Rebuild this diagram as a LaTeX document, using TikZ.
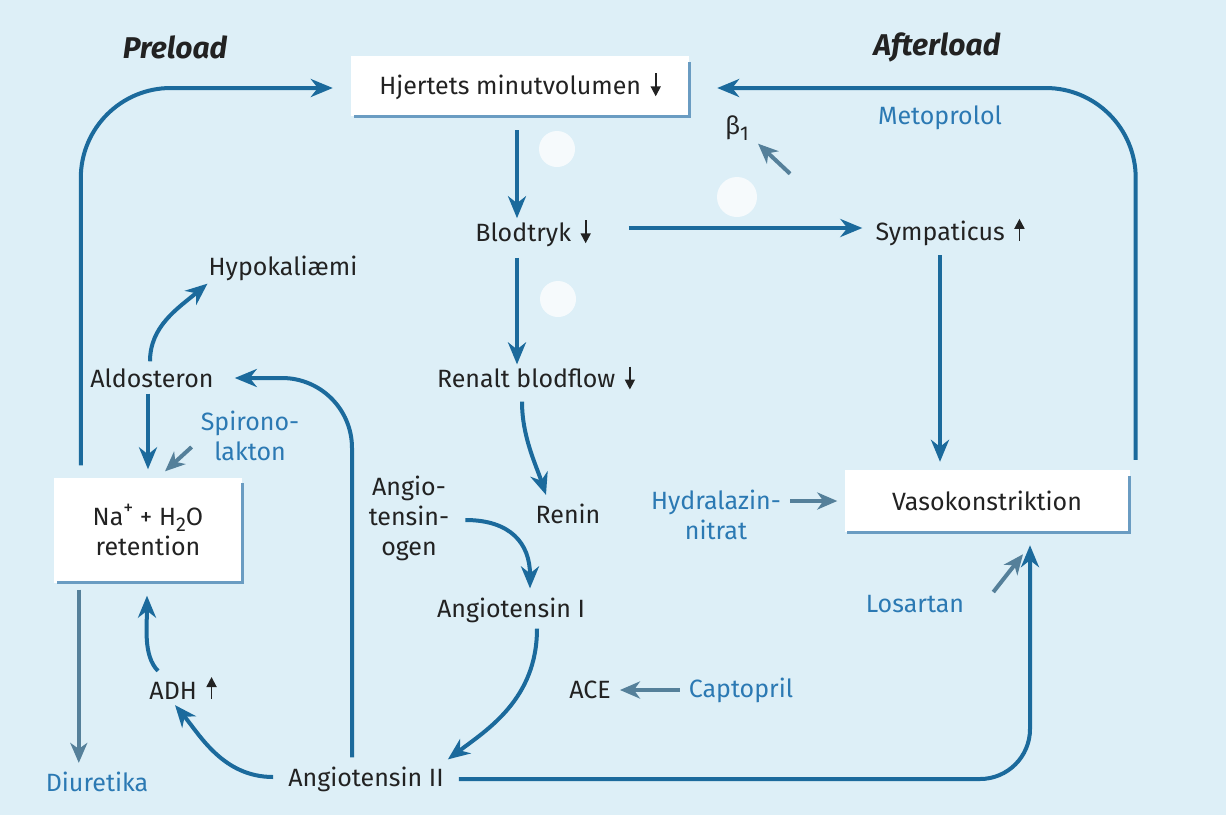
\documentclass[tikz,border=0pt]{standalone}
\usepackage{fontspec}
\setmainfont{Fira Sans}
\usetikzlibrary{arrows.meta,calc}
\definecolor{bg}{HTML}{DDEFF7}
\definecolor{arr}{HTML}{1B6A9C}
\definecolor{drug}{HTML}{2B79B3}
\definecolor{garr}{HTML}{55809A}
\definecolor{shad}{HTML}{6A9CC2}
\definecolor{ink}{HTML}{222222}
\newcommand\dnarr{\hspace{3pt}\tikz[baseline=0pt,x=1pt,y=1pt]{\draw[ink,line width=1.8pt,-{Triangle[length=10pt,width=10pt]}] (0,21) -- (0,-2);}}
\newcommand\uparr{\hspace{3pt}\tikz[baseline=0pt,x=1pt,y=1pt]{\draw[ink,line width=1.8pt,-{Triangle[length=10pt,width=10pt]}] (0,0) -- (0,22);}}
\newcommand\supp[1]{\raisebox{0.45em}{\fontsize{20}{20}\selectfont #1}}
\newcommand\subb[1]{\raisebox{-0.25em}{\fontsize{20}{20}\selectfont #1}}
\newcommand\boxshade[1]{\draw[shad, line width=3pt] ($(#1.north east)+(0,6)$) -- (#1.south east) -- ($(#1.south west)+(3,0)$);}
\begin{document}
\begin{tikzpicture}[x=1pt,y=-1pt,
  lbl/.style={font=\fontsize{25}{30}\selectfont, text=ink, inner sep=1pt, align=center},
  drugl/.style={lbl, text=drug},
  head/.style={font=\fontsize{30}{34}\selectfont\bfseries\itshape, text=ink, inner sep=1pt},
  boxn/.style={lbl, fill=white, inner sep=0pt},
  flow/.style={draw=arr, line width=4pt, -{Stealth[length=22pt,width=18pt,inset=7pt]}},
  garrow/.style={draw=garr, line width=4pt, -{Stealth[length=20pt,width=17pt,inset=6pt]}},
  blot/.style={fill=white, opacity=0.75}]
\fill[bg] (0,0) rectangle (1226,815);
\useasboundingbox (0,0) rectangle (1226,815);
% blots
\fill[blot] (557,149) circle (18);
\fill[blot] (737,197) circle (20);
\fill[blot] (558,299) circle (18);
% headings
\node[head] (pre) at (175,47) {Preload};
\node[head] (aft) at (937,47) {Afterload};
% boxes
\node[boxn, minimum width=338pt, minimum height=60pt] (hm) at (520,86) {Hjertets minutvolumen \dnarr};
\node[boxn, minimum width=285pt, minimum height=62pt] (vk) at (987,501) {Vasokonstriktion};
\node[boxn, minimum width=188pt, minimum height=105pt] (na) at (148,530) {Na\supp{+} + H\subb{2}O\\retention};
\boxshade{hm}
\boxshade{vk}
\boxshade{na}
% labels
\node[lbl] (bt) at (533,233) {Blodtryk \dnarr};
\node[lbl] (sy) at (950,232) {Sympaticus \uparr};
\node[lbl] (rb) at (536,378) {Renalt blodflow \dnarr};
\node[lbl] (re) at (568,514) {Renin};
\node[lbl] (ag) at (409,518) {Angio-\\tensin-\\ogen};
\node[lbl] (a1) at (511,610) {Angiotensin I};
\node[lbl] (ace) at (590,690) {ACE};
\node[lbl] (a2) at (366,779) {Angiotensin II};
\node[lbl] (adh) at (183,688) {ADH \uparr};
\node[lbl] (hyp) at (283,268) {Hypokaliæmi};
\node[lbl] (ald) at (152,378) {Aldosteron};
\node[lbl] (b1) at (737,128) {β\subb{1}};
% drugs
\node[drugl] (cap) at (741,690) {Captopril};
\node[drugl] (diu) at (97,782) {Diuretika};
\node[drugl] (spi) at (250,436) {Spirono-\\lakton};
\node[drugl] (hyd) at (716,515) {Hydralazin-\\nitrat};
\node[drugl] (los) at (915,604) {Losartan};
\node[drugl] (met) at (940,118) {Metoprolol};
% loops
\coordinate (p0) at ($(na.north west)+(27,-12)$);
\draw[flow, rounded corners=90pt] (p0) |- ($(hm.west)+(-18,2)$);
\coordinate (q0) at ($(vk.north east)+(6,-10)$);
\draw[flow, rounded corners=90pt] (q0) |- ($(hm.east)+(28,2)$);
% main chain
\coordinate (c1) at ($(hm.south)+(-3,14)$);
\draw[flow] (c1) -- (c1 |- bt.north);
\draw[flow] ($(bt.east)+(37,-5)$) -- ($(sy.west)+(-12,-4)$);
\coordinate (c2) at ($(bt.south)+(-16,10)$);
\draw[flow] (c2) -- (c2 |- rb.north);
\draw[flow] ($(rb.south)+(-14,10)$) .. controls +(0,35) and +(-10,-30) .. ($(re.north)+(-22,-8)$);
\coordinate (c3) at ($(sy.south)+(-10,8)$);
\draw[flow, shorten >=8pt] (c3) -- (c3 |- vk.north);
\draw[flow] ($(ag.east)+(15,2)$) .. controls +(45,0) and +(0,-45) .. ($(a1.north)+(19,-8)$);
\draw[flow] ($(a1.south)+(26,5)$) .. controls +(0,70) and +(40,-30) .. ($(a2.north east)+(3,-6)$);
\draw[flow, rounded corners=50pt] ($(a2.east)+(14,0)$) -| ($(vk.south)+(43,13)$);
\draw[flow, rounded corners=70pt] ($(a2.north)+(-14,-8)$) |- ($(ald.east)+(20,0)$);
\draw[flow] ($(a2.west)+(-14,-2)$) .. controls +(-50,0) and +(25,30) .. ($(adh.south)+(-8,4)$);
\draw[flow] ($(adh.north)+(-25,-4)$) .. controls +(-15,-15) and +(0,30) .. ($(na.south)+(-1,13)$);
\draw[flow] ($(ald.north)+(-2,-6)$) .. controls +(0,-35) and +(-30,25) .. ($(hyp.south west)+(0,2)$);
\coordinate (c4) at ($(ald.south)+(-4,5)$);
\draw[flow, shorten >=8pt] (c4) -- (c4 |- na.north);
% drug arrows
\coordinate (c5) at ($(na.south west)+(25,7)$);
\draw[garrow, shorten >=8pt] (c5) -- (c5 |- diu.north);
\draw[garrow] ($(spi.west)+(-8,11)$) -- ($(na.north)+(17,-6)$);
\draw[garrow] ($(b1.south east)+(40,32)$) -- ($(b1.south east)+(8,2)$);
\draw[garrow] ($(hyd.east)+(8,-14)$) -- ($(vk.west)+(-7,0)$);
\draw[garrow] ($(los.north east)+(28,-2)$) -- ($(vk.south)+(36,22)$);
\draw[garrow] ($(cap.west)+(-8,0)$) -- ($(ace.east)+(8,0)$);
\end{tikzpicture}
\end{document}
